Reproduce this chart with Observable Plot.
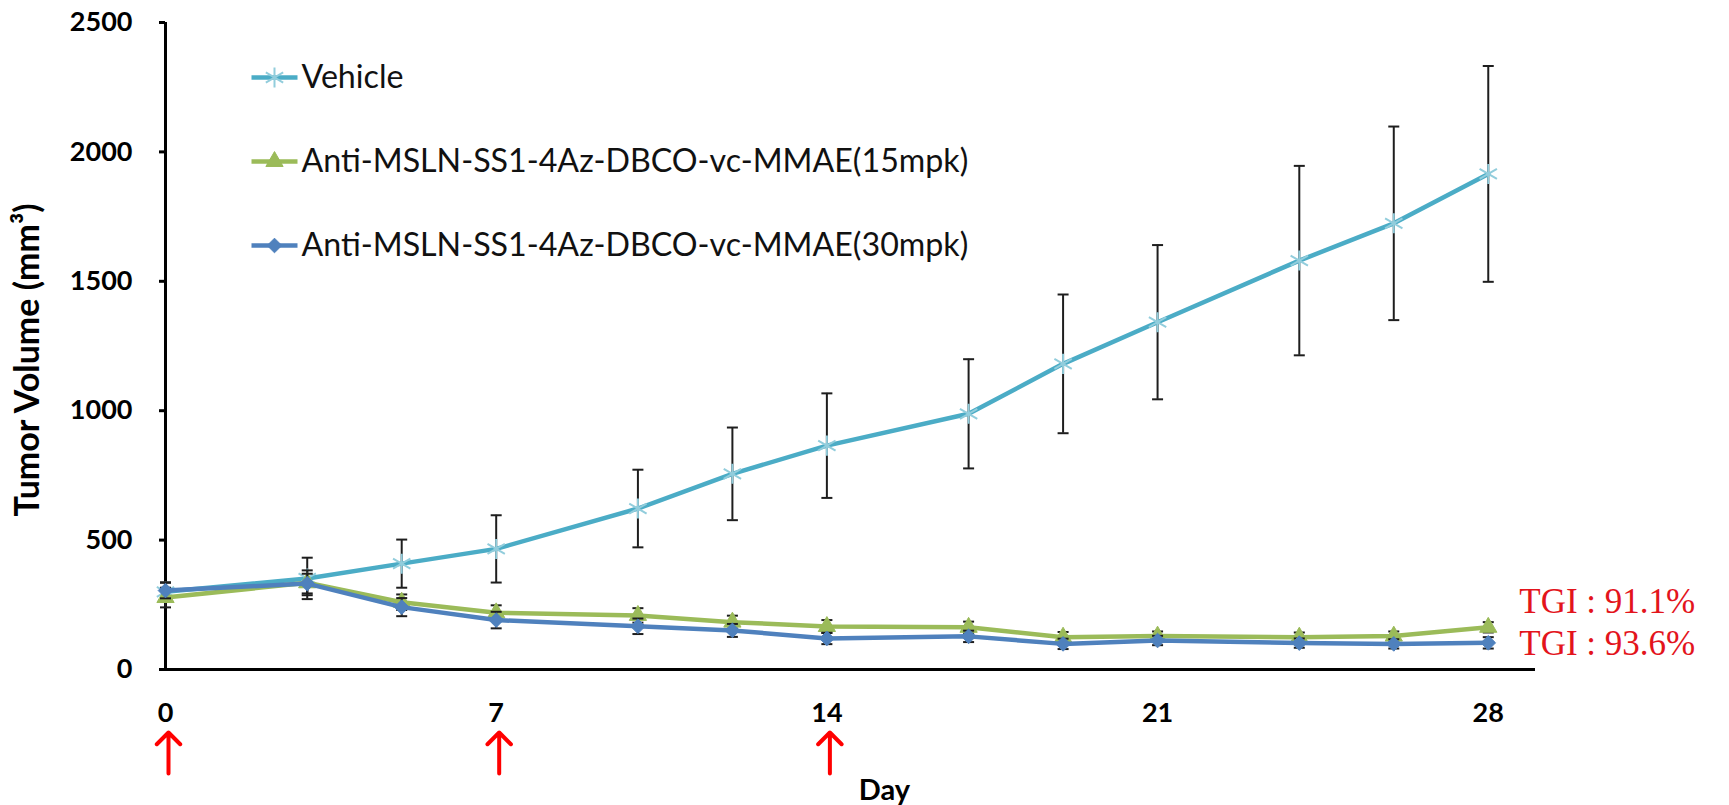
<!DOCTYPE html>
<html><head><meta charset="utf-8">
<script src="https://cdn.jsdelivr.net/npm/d3@7"></script>
<script src="https://cdn.jsdelivr.net/npm/@observablehq/plot@0.6"></script>
<style>
html,body{margin:0;padding:0;background:#fff;}
#chart{width:1729px;height:805px;}
</style></head><body><div id="chart"></div>
<script>
// ---- data ----
const days = [0, 3, 5, 7, 10, 12, 14, 17, 19, 21, 24, 26, 28];
const seriesNames = [
  "Vehicle",
  "Anti-MSLN-SS1-4Az-DBCO-vc-MMAE(15mpk)",
  "Anti-MSLN-SS1-4Az-DBCO-vc-MMAE(30mpk)"
];
const vehicleMean = [300, 352, 409, 466, 622, 756, 865, 988, 1181, 1342, 1580, 1724, 1915];
const vehicleErr  = [37, 80, 93, 130, 150, 179, 202, 211, 268, 298, 366, 374, 417];
const mpk15Mean   = [278, 335, 260, 219, 209, 183, 166, 163, 125, 129, 125, 129, 163];
const mpk15Err    = [38, 48, 30, 29, 28, 25, 25, 22, 20, 18, 18, 18, 20];
const mpk30Mean   = [305, 332, 241, 191, 167, 151, 120, 128, 99, 112, 102, 99, 103];
const mpk30Err    = [30, 38, 35, 32, 30, 25, 22, 22, 20, 18, 18, 18, 22];
const doseDays = [0, 7, 14];
const tgiLabels = ["TGI : 91.1%", "TGI : 93.6%"];   // for 15mpk, 30mpk
const xTicks = [0, 7, 14, 21, 28];
const yTicks = [0, 500, 1000, 1500, 2000, 2500];
const xTitle = "Day";
const yTitle = "Tumor Volume (mm\u00B3)";

// ---- styles ----
const seriesStyle = [
  {line: "#4bacc6", marker: "#92cddc", symbol: "asterisk", r: 9.5, filled: false},
  {line: "#9bbb59", marker: "#9bbb59", symbol: "triangle", r: 6.4, filled: true},
  {line: "#4f81bd", marker: "#4f81bd", symbol: "diamond2", r: 6.6, filled: true}
];
const means = [vehicleMean, mpk15Mean, mpk30Mean];
const errs = [vehicleErr, mpk15Err, mpk30Err];
const series = seriesNames.map((name, i) => days.map((day, j) => ({
  name, day, value: means[i][j], err: errs[i][j]
})));

const hline = {draw(ctx, size) { const r = Math.sqrt(size / Math.PI); ctx.moveTo(-r, 0); ctx.lineTo(r, 0); }};
const errColor = "#1e1e1e";

function markerOpts(st) {
  return st.filled
    ? {symbol: st.symbol, r: st.r, fill: st.marker, stroke: st.marker, strokeWidth: 1}
    : {symbol: st.symbol, r: st.r, fill: "none", stroke: st.marker, strokeWidth: 2};
}

const marks = [];
// axes lines
marks.push(Plot.ruleX([0], {stroke: "#000", strokeWidth: 3}));
marks.push(Plot.ruleY([0], {stroke: "#000", strokeWidth: 3}));
marks.push(Plot.axisY({ticks: yTicks, tickSize: 6, tickPadding: 27, fontSize: 27, fontWeight: "bold",
  strokeWidth: 3, tickFormat: d => String(d), label: null, color: "#000"}));
marks.push(Plot.axisX({ticks: xTicks, tickSize: 0, tickPadding: 33, fontSize: 27, fontWeight: "bold",
  tickFormat: d => String(d), label: null, color: "#000"}));

// series
series.forEach((rows, i) => {
  const st = seriesStyle[i];
  marks.push(Plot.ruleX(rows, {x: "day", y1: d => d.value - d.err, y2: d => d.value + d.err, stroke: errColor, strokeWidth: 2}));
  marks.push(Plot.dot(rows, {x: "day", y: d => d.value + d.err, symbol: hline, r: 5.5, stroke: errColor, strokeWidth: 2}));
  marks.push(Plot.dot(rows, {x: "day", y: d => d.value - d.err, symbol: hline, r: 5.5, stroke: errColor, strokeWidth: 2}));
  marks.push(Plot.line(rows, {x: "day", y: "value", stroke: st.line, strokeWidth: 4.5}));
  marks.push(Plot.dot(rows, {x: "day", y: "value", ...markerOpts(st)}));
});

// legend (inside plot, top-left)
seriesNames.forEach((name, i) => {
  const st = seriesStyle[i];
  const dy = 55 + 84 * i;
  marks.push(Plot.dot([name], {frameAnchor: "top-left", dx: 109, dy, symbol: hline, r: 23, stroke: st.line, strokeWidth: 4.5}));
  marks.push(Plot.dot([name], {frameAnchor: "top-left", dx: 109, dy, ...markerOpts(st)}));
  marks.push(Plot.text([name], {frameAnchor: "top-left", dx: 136, dy, text: d => d, textAnchor: "start",
    lineAnchor: "middle", fontSize: 32.2, fill: "#111"}));
});

// TGI labels next to last points
tgiLabels.forEach((lab, k) => {
  const rows = series[k + 1];
  const last = rows[rows.length - 1];
  marks.push(Plot.text([last], {x: "day", y: "value", text: () => lab, dx: 31, dy: k === 0 ? -26 : 1,
    textAnchor: "start", lineAnchor: "middle", fontSize: 35, fill: "#e3141c", fontFamily: "Liberation Serif"}));
});

// dosing arrows
marks.push(Plot.vector(doseDays, {x: d => d, frameAnchor: "bottom", dx: 3, dy: 104, length: 41, rotate: 0,
  anchor: "start", shape: "arrow", r: 5, stroke: "#ff0000", strokeWidth: 4}));

// axis titles
marks.push(Plot.text([xTitle], {frameAnchor: "bottom", dx: 34, dy: 121, text: d => d, lineAnchor: "middle",
  fontSize: 29, fontWeight: "bold", fill: "#000"}));
marks.push(Plot.text([yTitle], {frameAnchor: "left", dx: -137, dy: 14, text: d => d, rotate: -90,
  textAnchor: "middle", lineAnchor: "middle", fontSize: 34, fontWeight: "bold", fill: "#000"}));

const chart = Plot.plot({
  width: 1729, height: 805,
  marginLeft: 165, marginRight: 194, marginTop: 22, marginBottom: 136,
  x: {domain: [0, 29], label: null},
  y: {domain: [0, 2500], label: null},
  style: {fontFamily: "Lato, 'Open Sans', sans-serif", background: "#fff", overflow: "visible"},
  marks
});
document.getElementById("chart").appendChild(chart);
</script></body></html>
